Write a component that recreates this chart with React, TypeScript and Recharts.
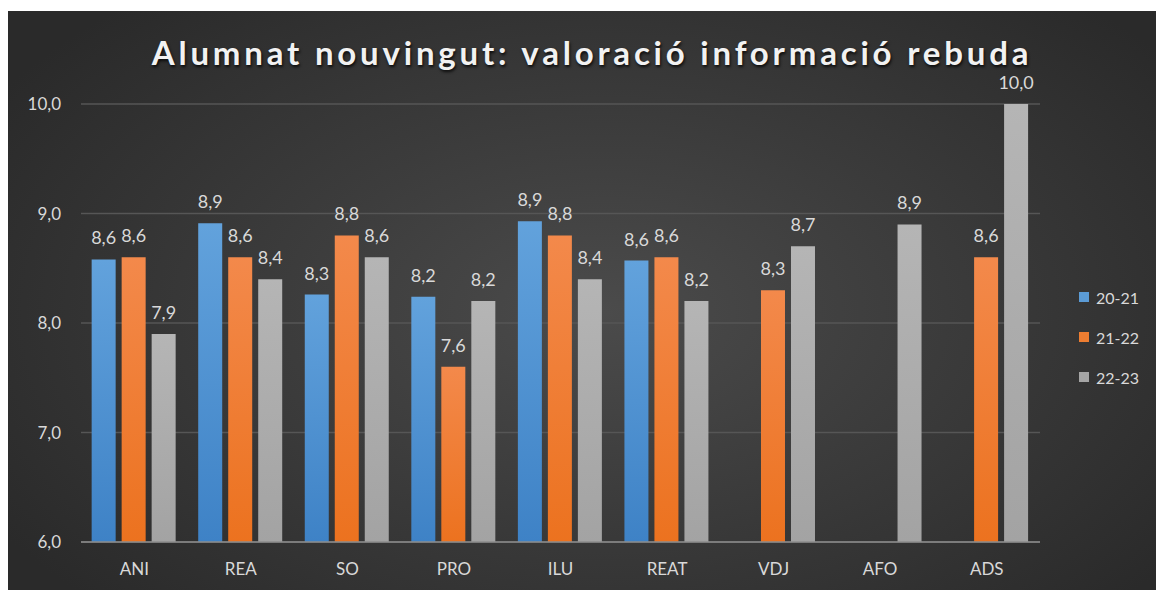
import { BarChart, Bar, XAxis, YAxis, CartesianGrid, Legend, LabelList } from 'recharts';

const categories = ['ANI', 'REA', 'SO', 'PRO', 'ILU', 'REAT', 'VDJ', 'AFO', 'ADS'];
const s2021 = [8.58, 8.91, 8.26, 8.24, 8.93, 8.57, null, null, null];
const s2122 = [8.6, 8.6, 8.8, 7.6, 8.8, 8.6, 8.3, null, 8.6];
const s2223 = [7.9, 8.4, 8.6, 8.2, 8.4, 8.2, 8.7, 8.9, 10.0];
const yTicks = [6, 7, 8, 9, 10];

const series = [
    { key: 's2021', name: '20-21', color: '#5b9bd5', top: '#62a2dc', bottom: '#3e82c6' },
    { key: 's2122', name: '21-22', color: '#ed7d31', top: '#f3894b', bottom: '#ec721f' },
    { key: 's2223', name: '22-23', color: '#a5a5a5', top: '#b5b5b5', bottom: '#a3a3a3' },
];

const data = categories.map((name, i) => ({
    name,
    s2021: s2021[i],
    s2122: s2122[i],
    s2223: s2223[i],
}));

const fmt = (v: any) => (v == null ? '' : Number(v).toFixed(1).replace('.', ','));

const font = 'Lato, "Open Sans", sans-serif';

const renderLegend = () => (
    <div style={{ width: 80, paddingLeft: 39, boxSizing: 'border-box', fontFamily: font }}>
        {series.map((s) => (
            <div key={s.key} style={{ height: 40, display: 'flex', alignItems: 'center', whiteSpace: 'nowrap' }}>
                <div style={{ width: 10, height: 10, flexShrink: 0, background: s.color, marginRight: 7 }} />
                <div style={{ color: '#d9d9d9', fontSize: 16, flexShrink: 0 }}>{s.name}</div>
            </div>
        ))}
    </div>
);

export default function App() {
    return (
        <div
            style={{
                position: 'relative',
                marginLeft: 8,
                marginTop: 11,
                width: 1148,
                height: 579,
                background: 'radial-gradient(ellipse 62% 72% at 52% 52%, #4b4b4b 0%, #3c3c3c 45%, #2a2a2a 100%)',
            }}
        >
            <style>{'body{margin:0;overflow:hidden}'}</style>
            <div
                style={{
                    position: 'absolute',
                    left: 10,
                    width: 1148,
                    top: 21,
                    textAlign: 'center',
                    fontFamily: font,
                    fontWeight: 700,
                    fontSize: 33,
                    letterSpacing: 3.8,
                    color: '#f2f2f2',
                    textShadow: '1px 2px 3px rgba(0,0,0,0.8)',
                    zIndex: 2,
                }}
            >
                Alumnat nouvingut: valoració informació rebuda
            </div>
            <BarChart
                width={1148}
                height={579}
                data={data}
                margin={{ top: 93, right: 36, bottom: 18, left: 13 }}
                barCategoryGap="10%"
                barGap={6}
            >
                <defs>
                    {series.map((s) => (
                        <linearGradient key={s.key} id={`g-${s.key}`} x1="0" y1="0" x2="0" y2="1">
                            <stop offset="0%" stopColor={s.top} />
                            <stop offset="100%" stopColor={s.bottom} />
                        </linearGradient>
                    ))}
                </defs>
                <CartesianGrid vertical={false} stroke="#565656" strokeWidth={1.5} />
                <XAxis
                    dataKey="name"
                    height={30}
                    tickLine={false}
                    axisLine={{ stroke: '#8c8c8c', strokeWidth: 1.5 }}
                    tick={{ fill: '#d9d9d9', fontSize: 17, fontFamily: font }}
                    tickMargin={15}
                />
                <YAxis
                    width={60}
                    domain={[6, 10]}
                    ticks={yTicks}
                    tickFormatter={fmt}
                    axisLine={false}
                    tickLine={false}
                    tickMargin={14}
                    tick={{ fill: '#d9d9d9', fontSize: 17, fontFamily: font }}
                />
                <Legend
                    layout="vertical"
                    align="right"
                    verticalAlign="top"
                    content={renderLegend}
                    wrapperStyle={{ top: 266 }}
                />
                {series.map((s) => (
                    <Bar
                        key={s.key}
                        dataKey={s.key}
                        name={s.name}
                        fill={`url(#g-${s.key})`}
                        isAnimationActive={false}
                    >
                        <LabelList
                            dataKey={s.key}
                            position="top"
                            offset={15}
                            formatter={fmt}
                            style={{ fill: '#d9d9d9', fontSize: 18, fontFamily: font }}
                        />
                    </Bar>
                ))}
            </BarChart>
        </div>
    );
}
